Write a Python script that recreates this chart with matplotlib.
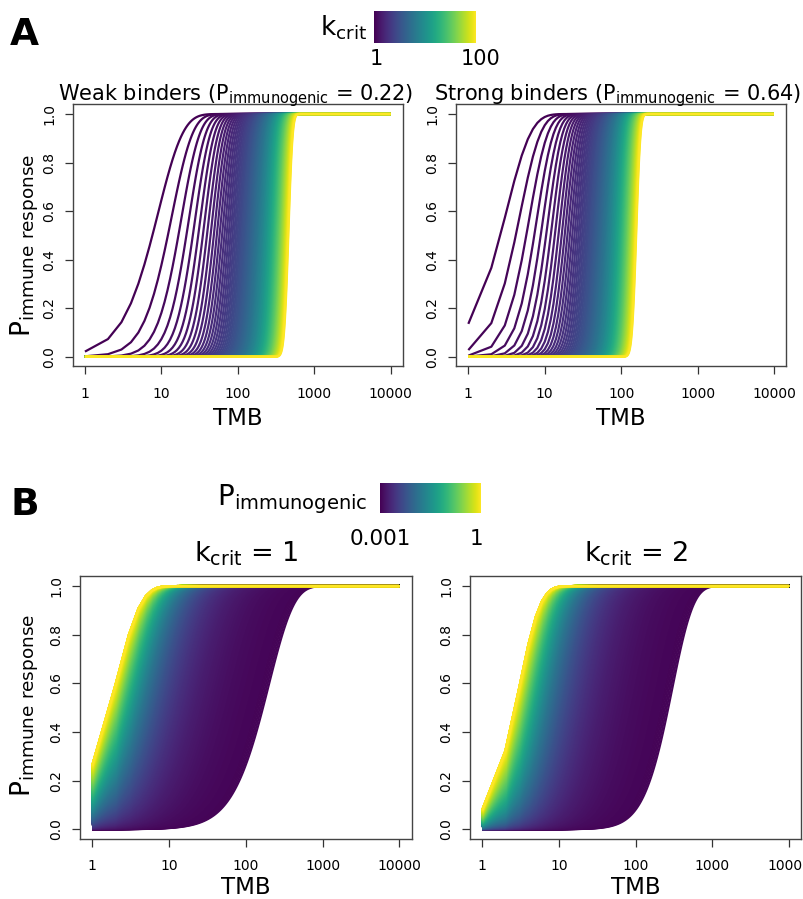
import math
import numpy as np
import matplotlib as mpl
mpl.use('Agg')
import matplotlib.pyplot as plt
from matplotlib.collections import LineCollection

mpl.rcParams['font.family'] = 'DejaVu Sans'
mpl.rcParams['mathtext.fontset'] = 'dejavusans'

W, H = 804, 899

# model parameters
TMB = np.unique(np.round(np.logspace(0, 4, 900)))      # mutations, integer grid 1..10000
K_CRIT = list(range(1, 101))                            # panel A, one curve per k_crit
P_WEAK = 0.22
P_STRONG = 0.64
P_IMMUNOGENIC = np.round(np.arange(0.01, 1.00025, 0.0005), 4)  # panel B curves
P_RANGE = (0.001, 1)
K_B = [1, 2]

XTICKS = [1, 10, 100, 1000, 10000]
XTICKLABELS = ['1', '10', '100', '1000', '10000']
YTICKS = [0, 0.2, 0.4, 0.6, 0.8, 1.0]
YTICKLABELS = ['0.0', '0.2', '0.4', '0.6', '0.8', '1.0']

SUB_IMM = r'$\mathregular{P_{immunogenic}}$'
YLAB = r'$\mathregular{P_{immune\ response}}$'
KCRIT = r'$\mathregular{k_{crit}}$'


def p_response(lam, k):
    """P(X > k) for X ~ Poisson(lam); lam may be 2-d."""
    lam = np.asarray(lam, dtype=float)
    loglam = np.log(lam)
    cdf = np.zeros_like(lam)
    for j in range(k + 1):
        cdf += np.exp(-lam + j * loglam - math.lgamma(j + 1))
    return np.clip(1 - cdf, 0, 1)


fig = plt.figure(figsize=(W / 100, H / 100), dpi=100)


def px_axes(x0, y0, x1, y1):
    return fig.add_axes([x0 / W, 1 - y1 / H, (x1 - x0) / W, (y1 - y0) / H])


def style(ax):
    ax.set_xscale('log')
    ax.set_xlim(10 ** -0.16, 10 ** 4.16)
    ax.set_ylim(-0.04, 1.04)
    ax.set_xticks(XTICKS)
    ax.set_xticklabels(XTICKLABELS)
    ax.minorticks_off()
    ax.set_yticks(YTICKS)
    ax.set_yticklabels(YTICKLABELS, rotation=90, va='center')
    ax.tick_params(direction='out', length=5.5, width=0.9, color='#333333',
                   labelsize=10, labelcolor='black')
    ax.tick_params(axis='x', pad=9.0)
    ax.tick_params(axis='y', pad=6.5)
    for s in ax.spines.values():
        s.set_linewidth(1.0)
        s.set_color('#444444')


def draw_lines(ax, curves, colors, lw):
    segs = [np.column_stack([TMB, y]) for y in curves]
    lc = LineCollection(segs, colors=colors, linewidths=lw, capstyle='butt')
    ax.add_collection(lc)


def colorbar(x0, y0, x1, y1):
    cax = px_axes(x0, y0, x1, y1)
    cax.imshow(np.linspace(0, 1, 256)[None, :], cmap='viridis', aspect='auto')
    cax.axis('off')


# ---- panel A ----
norm_k = mpl.colors.Normalize(1, 100)
cols_k = plt.cm.viridis(norm_k(K_CRIT))
axes_a = [px_axes(72.7, 104.3, 403.0, 366.4), px_axes(456.1, 104.3, 786.2, 366.4)]
for ax, p in zip(axes_a, [P_WEAK, P_STRONG]):
    curves = [p_response(p * TMB, k) for k in K_CRIT]
    draw_lines(ax, curves, cols_k, 1.6)
    style(ax)

fig.text(236, H - 100, 'Weak binders (' + SUB_IMM + ' = 0.22)', fontsize=15,
         ha='center', va='baseline', transform=None)
fig.text(618, H - 100, 'Strong binders (' + SUB_IMM + ' = 0.64)', fontsize=15,
         ha='center', va='baseline', transform=None)

# ---- panel B ----
norm_p = mpl.colors.Normalize(*P_RANGE)
cols_p = plt.cm.viridis(norm_p(P_IMMUNOGENIC))
axes_b = [px_axes(80.0, 576.3, 411.6, 839.0), px_axes(470.0, 576.3, 801.3, 839.0)]
for ax, k in zip(axes_b, K_B):
    lam = P_IMMUNOGENIC[:, None] * TMB[None, :]
    curves = p_response(lam, k)
    draw_lines(ax, curves, cols_p, 1.5)
    style(ax)
    c = (ax.get_position().x0 + ax.get_position().x1) / 2 * W
    fig.text(c, H - 562, KCRIT + ' = %d' % k, fontsize=19.5,
             ha='center', va='baseline', transform=None)

# axis labels
for ax, ylab_y, xlab_y in [(axes_a[0], 245, 418.5), (axes_a[1], None, 418.5),
                           (axes_b[0], 705, 888), (axes_b[1], None, 888)]:
    pos = ax.get_position()
    fig.text((pos.x0 + pos.x1) / 2 * W, H - xlab_y, 'TMB', fontsize=16.5,
             ha='center', va='center', transform=None)
    if ylab_y is not None:
        fig.text(25, H - ylab_y, YLAB, fontsize=19, rotation=90,
                 ha='center', va='center', transform=None)

# colour keys
colorbar(374, 11, 475, 42.7)
fig.text(367, H - 35, KCRIT, fontsize=19, ha='right', va='baseline', transform=None)
fig.text(376, H - 65, '1', fontsize=15, ha='center', va='baseline', transform=None)
fig.text(481, H - 65, '100', fontsize=15, ha='center', va='baseline', transform=None)

colorbar(380, 482.7, 480, 513)
fig.text(367, H - 505, SUB_IMM, fontsize=20, ha='right', va='baseline', transform=None)
fig.text(380, H - 545, '0.001', fontsize=15.5, ha='center', va='baseline', transform=None)
fig.text(477, H - 545, '1', fontsize=15.5, ha='center', va='baseline', transform=None)

# panel letters
fig.text(10, H - 45, 'A', fontsize=27, fontweight='bold', ha='left', va='baseline',
         transform=None)
fig.text(10, H - 515, 'B', fontsize=27, fontweight='bold', ha='left', va='baseline',
         transform=None)

fig.savefig('out.png', dpi=100, facecolor='white')
